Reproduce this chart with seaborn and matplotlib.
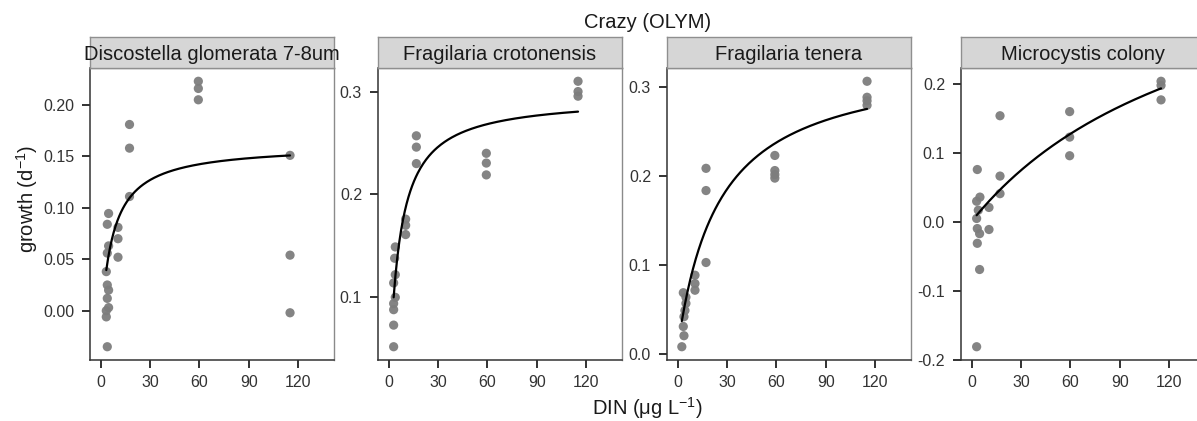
import numpy as np
import pandas as pd
import matplotlib
matplotlib.use("Agg")
import matplotlib.pyplot as plt
import seaborn as sns

# ---------------- data ----------------
species = ["Discostella glomerata 7-8um", "Fragilaria crotonensis",
           "Fragilaria tenera", "Microcystis colony"]

disc_x = [4, 59.3, 59.3, 59.3, 17.5, 17.5, 17.5, 115, 115, 115,
          4.8, 4, 4.8, 4, 10.5, 10.5, 10.5, 3.4, 4, 4.8, 4, 4.8, 3.4, 3.4]
disc_y = [-0.035, 0.223, 0.216, 0.205, 0.181, 0.158, 0.111, 0.151, 0.054, -0.002,
          0.0945, 0.084, 0.063, 0.056, 0.081, 0.070, 0.052, 0.038, 0.025, 0.020,
          0.012, 0.003, 0.000, -0.006]

crot_x = [115, 115, 115, 16.8, 16.8, 16.8, 59.3, 59.3, 59.3, 10.3, 10.3, 10.3,
          4, 3.6, 4, 3, 4, 3, 3, 3, 3]
crot_y = [0.310, 0.300, 0.2955, 0.257, 0.246, 0.230, 0.240, 0.2305, 0.219,
          0.176, 0.170, 0.161, 0.149, 0.138, 0.122, 0.114, 0.100, 0.094, 0.088,
          0.073, 0.052]

ten_x = [115, 115, 115, 115, 59, 59, 59, 59, 17.2, 17.2, 17.2, 10.5, 10.5, 10.5,
         3.4, 5, 4.4, 3.8, 3.4, 3.8, 2.5, 5]
ten_y = [0.307, 0.289, 0.285, 0.280, 0.2235, 0.2065, 0.202, 0.198, 0.209, 0.184,
         0.103, 0.0887, 0.0793, 0.0718, 0.069, 0.064, 0.049, 0.042, 0.031, 0.0206,
         0.0082, 0.057]

mic_x = [115, 115, 115, 59.5, 59.5, 59.5, 17.2, 17.2, 17.2, 10.5, 10.5,
         3.4, 5, 3, 4, 3, 3.4, 4.8, 3.4, 4.8, 3]
mic_y = [0.204, 0.198, 0.177, 0.160, 0.123, 0.096, 0.154, 0.0665, 0.041, 0.021,
         -0.011, 0.076, 0.036, 0.030, 0.017, 0.005, -0.0096, -0.017, -0.031,
         -0.069, -0.181]

xs = [disc_x, crot_x, ten_x, mic_x]
ys = [disc_y, crot_y, ten_y, mic_y]

# Monod-type fit parameters: y = b + a*S/(K+S)
fit_a = [0.181, 0.2925, 0.327, 0.444]
fit_K = [7.0, 6.0, 25.0, 150.0]
fit_b = [-0.0197, 0.0025, 0.0073, 0.001]

x_ticks = [0, 30, 60, 90, 120]
y_ticks = [[0.00, 0.05, 0.10, 0.15, 0.20], [0.1, 0.2, 0.3],
           [0.0, 0.1, 0.2, 0.3], [-0.2, -0.1, 0.0, 0.1, 0.2]]
y_fmt = ["%.2f", "%.1f", "%.1f", "%.1f"]

title = "Crazy (OLYM)"
xlabel = "DIN (μg L$^{-1}$)"
ylabel = "growth (d$^{-1}$)"

# ---------------- style ----------------
sns.set_style("white")
plt.rcParams["font.family"] = ["Liberation Sans", "DejaVu Sans"]
plt.rcParams["mathtext.default"] = "regular"

W, H = 1197, 421
fig = plt.figure(figsize=(W / 100, H / 100), dpi=100)

lefts = [90, 378, 667, 961]
pw = 244
top_px, bot_px, strip_top = 68, 360, 37

frames = []
for i, sp in enumerate(species):
    frames.append(pd.DataFrame({"DIN": xs[i], "growth": ys[i], "species": sp}))
df = pd.concat(frames, ignore_index=True)

for i, sp in enumerate(species):
    ax = fig.add_axes([lefts[i] / W, 1 - bot_px / H, pw / W, (bot_px - top_px) / H])
    sub = df[df["species"] == sp]
    sns.scatterplot(data=sub, x="DIN", y="growth", ax=ax, color="#7d7d7d",
                    s=44, edgecolor="none", linewidth=0, alpha=0.95, zorder=2)
    xmin, xmax = min(xs[i]), max(xs[i])
    cx = np.linspace(xmin, xmax, 200)
    cy = fit_b[i] + fit_a[i] * cx / (fit_K[i] + cx)
    sns.lineplot(x=cx, y=cy, ax=ax, color="black", linewidth=1.6, zorder=3)
    ax.set_xlim(-6.5, 141.7)
    ax.margins(y=0.05)
    ax.set_xticks(x_ticks)
    ax.set_yticks(y_ticks[i])
    ax.set_yticklabels([y_fmt[i] % v for v in y_ticks[i]])
    ax.set_xlabel("")
    ax.set_ylabel("")
    ax.tick_params(axis="y", direction="out", length=5.5, width=1.3,
                   labelsize=11.5, pad=6, color="#222222", labelcolor="#333333",
                   left=True)
    ax.tick_params(axis="x", direction="out", length=5.5, width=1.3,
                   labelsize=11.5, pad=5, color="#222222", labelcolor="#333333",
                   bottom=True)
    for side in ["left", "bottom"]:
        ax.spines[side].set_color("#333333")
        ax.spines[side].set_linewidth(1.1)
    for side in ["top", "right"]:
        ax.spines[side].set_color("#8a8a8a")
        ax.spines[side].set_linewidth(1.0)

    sax = fig.add_axes([lefts[i] / W, 1 - top_px / H, pw / W, (top_px - strip_top) / H])
    sax.set_facecolor("#d6d6d6")
    sax.set_xticks([])
    sax.set_yticks([])
    for s in sax.spines.values():
        s.set_color("#8f8f8f")
        s.set_linewidth(1.0)
    sax.text(0.5, 0.45, sp, ha="center", va="center", fontsize=14.5,
             color="#1a1a1a", transform=sax.transAxes, clip_on=False)

cx_all = (lefts[0] + lefts[-1] + pw) / 2 / W
fig.text(cx_all, 1 - 23 / H, title, ha="center", va="center", fontsize=14.5,
         color="#1a1a1a")
fig.text(cx_all, 1 - 408 / H, xlabel, ha="center", va="center", fontsize=14.5,
         color="#1a1a1a")
fig.text(27 / W, 1 - 199 / H, ylabel, ha="center", va="center", fontsize=14.5,
         rotation=90, color="#1a1a1a")

fig.savefig("out.png", dpi=100)
